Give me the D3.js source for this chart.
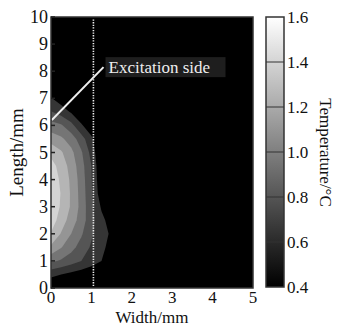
<!DOCTYPE html>
<html>
<head>
<meta charset="utf-8">
<script src="https://cdn.jsdelivr.net/npm/d3@7"></script>
<style>
  body { margin: 0; background: #fff; }
  svg text { fill: #111; font-family: "Liberation Serif", "Times New Roman", serif; }
</style>
</head>
<body>
<svg class="chartSVG" width="337" height="327"></svg>
<script>
// sample grid (mm) and temperatures (°C)
const gridX = [0, 0.25, 0.5, 0.75, 1, 1.25, 1.5, 1.75, 2, 2.25, 2.5]
const gridY = [0, 0.5, 1, 1.5, 2, 2.5, 3, 3.5, 4, 4.5, 5, 5.5, 6, 6.5, 7, 7.5, 8, 8.5, 9, 9.5, 10]
const temps = [
  [0.42, 0.40, 0.40, 0.40, 0.40, 0.40, 0.40, 0.40, 0.40, 0.40, 0.40],
  [0.65, 0.60, 0.56, 0.52, 0.48, 0.45, 0.42, 0.40, 0.40, 0.40, 0.40],
  [0.93, 0.88, 0.82, 0.75, 0.68, 0.60, 0.48, 0.40, 0.40, 0.40, 0.40],
  [1.17, 1.06, 0.95, 0.84, 0.73, 0.64, 0.54, 0.42, 0.40, 0.40, 0.40],
  [1.34, 1.19, 1.05, 0.92, 0.77, 0.67, 0.57, 0.45, 0.40, 0.40, 0.40],
  [1.43, 1.28, 1.13, 0.98, 0.80, 0.64, 0.53, 0.42, 0.40, 0.40, 0.40],
  [1.47, 1.33, 1.18, 1.00, 0.78, 0.58, 0.46, 0.40, 0.40, 0.40, 0.40],
  [1.48, 1.34, 1.18, 0.99, 0.77, 0.50, 0.42, 0.40, 0.40, 0.40, 0.40],
  [1.46, 1.32, 1.17, 0.98, 0.76, 0.47, 0.40, 0.40, 0.40, 0.40, 0.40],
  [1.41, 1.29, 1.14, 0.96, 0.75, 0.45, 0.40, 0.40, 0.40, 0.40, 0.40],
  [1.31, 1.22, 1.09, 0.92, 0.70, 0.43, 0.40, 0.40, 0.40, 0.40, 0.40],
  [1.14, 1.08, 0.98, 0.82, 0.63, 0.42, 0.40, 0.40, 0.40, 0.40, 0.40],
  [0.96, 0.92, 0.80, 0.62, 0.50, 0.41, 0.40, 0.40, 0.40, 0.40, 0.40],
  [0.76, 0.68, 0.58, 0.48, 0.42, 0.40, 0.40, 0.40, 0.40, 0.40, 0.40],
  [0.61, 0.52, 0.45, 0.42, 0.40, 0.40, 0.40, 0.40, 0.40, 0.40, 0.40],
  [0.45, 0.42, 0.40, 0.40, 0.40, 0.40, 0.40, 0.40, 0.40, 0.40, 0.40],
  [0.40, 0.40, 0.40, 0.40, 0.40, 0.40, 0.40, 0.40, 0.40, 0.40, 0.40],
  [0.40, 0.40, 0.40, 0.40, 0.40, 0.40, 0.40, 0.40, 0.40, 0.40, 0.40],
  [0.40, 0.40, 0.40, 0.40, 0.40, 0.40, 0.40, 0.40, 0.40, 0.40, 0.40],
  [0.40, 0.40, 0.40, 0.40, 0.40, 0.40, 0.40, 0.40, 0.40, 0.40, 0.40],
  [0.40, 0.40, 0.40, 0.40, 0.40, 0.40, 0.40, 0.40, 0.40, 0.40, 0.40]
]
const levels = [0.6, 0.75, 0.9, 1.05, 1.2, 1.35]
const xTicks = [0, 1, 2, 3, 4, 5]
const yTicks = [0, 1, 2, 3, 4, 5, 6, 7, 8, 9, 10]
const cbTicks = [0.4, 0.6, 0.8, 1.0, 1.2, 1.4, 1.6]
const excitationX = 1.05
const note = { text: "Excitation side", from: [0.02, 6.2], to: [1.3, 8.15] }

const svg = d3.select(".chartSVG")
const plot = { left: 51, right: 253, top: 17, bottom: 288 }
const x = d3.scaleLinear().domain([0, 5]).range([plot.left, plot.right])
const y = d3.scaleLinear().domain([0, 10]).range([plot.bottom, plot.top])
const gray = d3.scaleLinear().domain([0.4, 1.6]).range(["#000", "#fff"])

svg.append("defs").append("clipPath").attr("id", "plotClip")
  .append("rect")
  .attr("x", plot.left).attr("y", plot.top)
  .attr("width", plot.right - plot.left).attr("height", plot.bottom - plot.top)

svg.append("rect")
  .attr("x", plot.left).attr("y", plot.top)
  .attr("width", plot.right - plot.left).attr("height", plot.bottom - plot.top)
  .attr("fill", "#000")

// filled contour bands
const nx = gridX.length, ny = gridY.length
const stepX = gridX[1] - gridX[0], stepY = gridY[1] - gridY[0]
const contours = d3.contours().size([nx, ny]).thresholds(levels)(temps.flat())
const proj = d3.geoTransform({
  point: function (gx, gy) {
    this.stream.point(x(gridX[0] + (gx - 0.5) * stepX), y(gridY[0] + (gy - 0.5) * stepY))
  }
})
svg.append("g")
  .attr("clip-path", "url(#plotClip)")
  .selectAll("path")
  .data(contours)
  .join("path")
  .attr("d", d3.geoPath(proj))
  .attr("fill", d => gray(d.value + 0.05))

// dotted excitation line
svg.append("line")
  .attr("x1", x(excitationX)).attr("x2", x(excitationX))
  .attr("y1", y(0) - 2).attr("y2", y(10) + 2)
  .attr("stroke", "#eee").attr("stroke-width", 1.6)
  .attr("stroke-dasharray", "1.3,1.3")

// annotation
svg.append("line")
  .attr("x1", x(note.from[0])).attr("y1", y(note.from[1]))
  .attr("x2", x(note.to[0])).attr("y2", y(note.to[1]))
  .attr("stroke", "#eee").attr("stroke-width", 2)
const lbl = svg.append("g").attr("transform", `translate(${x(note.to[0]) + 2},${y(note.to[1])})`)
lbl.append("rect").attr("x", 0).attr("y", -10).attr("width", 120).attr("height", 20).attr("fill", "#1e1e1e")
lbl.append("text").attr("x", 3).attr("y", 6)
  .style("font-size", "17px").style("fill", "#eee")
  .text(note.text)

// frame and inward ticks
svg.append("rect")
  .attr("x", plot.left).attr("y", plot.top)
  .attr("width", plot.right - plot.left).attr("height", plot.bottom - plot.top)
  .attr("fill", "none").attr("stroke", "#333").attr("stroke-width", 1.5)

svg.append("g").selectAll("line").data(yTicks).join("line")
  .attr("x1", plot.left).attr("x2", plot.left + 4)
  .attr("y1", d => y(d)).attr("y2", d => y(d))
  .attr("stroke", "#222").attr("stroke-width", 1.5)

svg.append("g").selectAll("text").data(yTicks).join("text")
  .attr("x", plot.left - 3).attr("y", d => y(d) + 6)
  .attr("text-anchor", "end")
  .style("font-size", "18px")
  .text(d => d)

svg.append("g").selectAll("text").data(xTicks).join("text")
  .attr("x", d => x(d)).attr("y", plot.bottom + 15)
  .attr("text-anchor", "middle")
  .style("font-size", "17px")
  .text(d => d)

svg.append("text")
  .attr("x", (plot.left + plot.right) / 2).attr("y", 323)
  .attr("text-anchor", "middle")
  .style("font-size", "17px")
  .text("Width/mm")

svg.append("text")
  .attr("transform", `translate(23,${(plot.top + plot.bottom) / 2}) rotate(-90)`)
  .attr("text-anchor", "middle")
  .style("font-size", "19px")
  .text("Length/mm")

// colour bar
const cb = { left: 266, right: 284 }
const cy = d3.scaleLinear().domain([0.4, 1.6]).range([plot.bottom - 1, plot.top])
const grad = svg.select("defs").append("linearGradient")
  .attr("id", "cbGrad").attr("x1", 0).attr("x2", 0).attr("y1", 1).attr("y2", 0)
grad.selectAll("stop").data(cbTicks).join("stop")
  .attr("offset", (d, i) => i / (cbTicks.length - 1))
  .attr("stop-color", d => gray(d))

svg.append("rect")
  .attr("x", cb.left).attr("y", cy(1.6))
  .attr("width", cb.right - cb.left).attr("height", cy(0.4) - cy(1.6))
  .attr("fill", "url(#cbGrad)")
  .attr("stroke", "#333").attr("stroke-width", 1.5)

svg.append("g").selectAll("line").data(cbTicks.slice(1, -1)).join("line")
  .attr("x1", cb.left).attr("x2", cb.right)
  .attr("y1", d => cy(d)).attr("y2", d => cy(d))
  .attr("stroke", "#333").attr("stroke-width", 1)

svg.append("g").selectAll("text").data(cbTicks).join("text")
  .attr("x", cb.right + 3).attr("y", d => cy(d) + 6)
  .style("font-size", "17px")
  .text(d => d.toFixed(1))

svg.append("text")
  .attr("transform", `translate(320,${(plot.top + plot.bottom) / 2}) rotate(90)`)
  .attr("text-anchor", "middle")
  .style("font-size", "17px")
  .text("Temperature/°C")
</script>
</body>
</html>
